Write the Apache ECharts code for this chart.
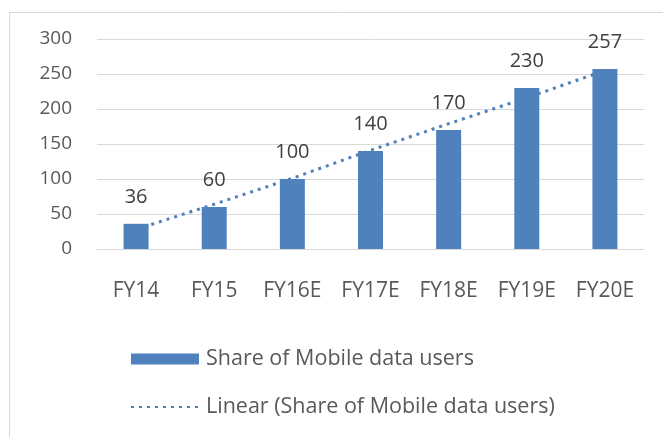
<!DOCTYPE html>
<html>
<head>
<meta charset="utf-8">
<script src="https://cdn.jsdelivr.net/npm/echarts@6/dist/echarts.min.js"></script>
<style>
  html, body { margin: 0; padding: 0; background: #fff; }
  #chart { width: 663px; height: 437px; }
</style>
</head>
<body>
<div id="chart"></div>
<script>
// 数据
var categories = ['FY14', 'FY15', 'FY16E', 'FY17E', 'FY18E', 'FY19E', 'FY20E'];
var users = [36, 60, 100, 140, 170, 230, 257];
// 趋势线
var trend = [28, 64, 101, 141, 179, 216, 255];
var yTicks = [0, 50, 100, 150, 200, 250, 300];

var barColor = '#4f81bd';
var textColor = '#595959';
var fontName = '"Open Sans", Lato, sans-serif';

var myChart = echarts.init(document.getElementById('chart'));
var option = {
    animation: false,
    textStyle: { fontFamily: fontName },
    graphic: [{
        type: 'rect',
        left: 7, top: 10,
        shape: { width: 700, height: 500 },
        style: { fill: 'none', stroke: '#d9d9d9', lineWidth: 1 }
    }],
    grid: { left: 97, right: 19, top: 39, bottom: 188 },
    legend: {
        orient: 'vertical',
        left: 130,
        top: 348,
        padding: 0,
        itemWidth: 68,
        itemHeight: 11,
        itemGap: 26,
        textStyle: { color: textColor, fontSize: 21.5, fontFamily: fontName, padding: [0, 0, 0, 2] },
        data: [
            { name: 'Share of Mobile data users', icon: 'rect' },
            { name: 'Linear (Share of Mobile data users)', itemStyle: { opacity: 0 } }
        ]
    },
    xAxis: {
        type: 'category',
        data: categories,
        axisLine: { lineStyle: { color: '#d9d9d9' } },
        axisTick: { show: false },
        axisLabel: { color: textColor, fontSize: 21, margin: 32 }
    },
    yAxis: {
        type: 'value',
        min: yTicks[0],
        max: yTicks[yTicks.length - 1],
        interval: 50,
        axisLine: { show: false },
        axisTick: { show: false },
        axisLabel: { color: textColor, fontSize: 19, margin: 25 },
        splitLine: { lineStyle: { color: '#d9d9d9', width: 1 } }
    },
    series: [{
        name: 'Share of Mobile data users',
        type: 'bar',
        data: users,
        barWidth: 25,
        itemStyle: { color: barColor },
        label: {
            show: true,
            position: 'top',
            distance: 17,
            color: '#404040',
            fontSize: 20,
            fontFamily: fontName
        }
    }, {
        name: 'Linear (Share of Mobile data users)',
        type: 'line',
        data: trend,
        symbol: 'none',
        z: 3,
        itemStyle: { color: barColor },
        lineStyle: { color: barColor, width: 3, type: [3, 5] }
    }]
};
myChart.setOption(option);
</script>
</body>
</html>
